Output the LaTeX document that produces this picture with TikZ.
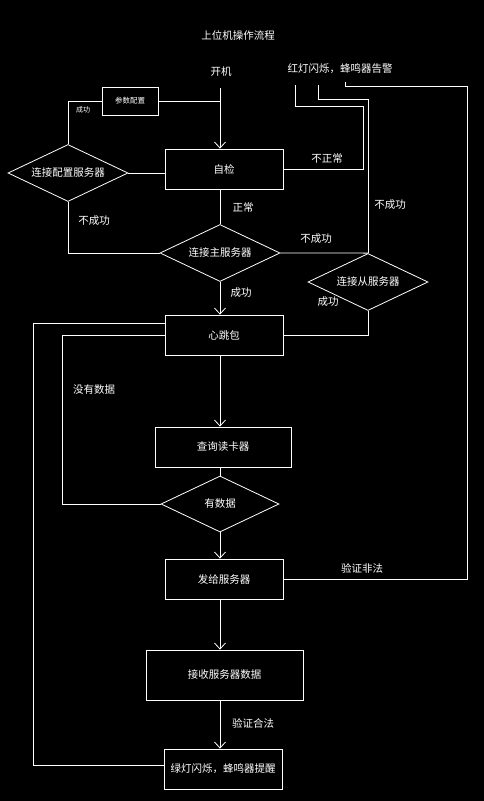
\documentclass[tikz,border=0pt]{standalone}
\usepackage{fontspec}
\setmainfont{Noto Sans CJK SC}
\usetikzlibrary{shapes.geometric,arrows.meta}
\begin{document}
\begin{tikzpicture}[x=1pt,y=-1pt,line width=0.8pt,
  every node/.style={text=white,font=\fontsize{10.5}{12}\selectfont},
  box/.style={draw=white,rectangle,inner sep=0pt},
  dia/.style={draw=white,diamond,shape aspect=2,inner sep=0pt},
  arr/.style={-{Straight Barb[length=6pt,width=11pt]}},
  lbl/.style={inner sep=0pt},
  conn/.style={draw=white}]
\fill[black] (0,0) rectangle (484,801);
\useasboundingbox (0,0) rectangle (484,801);

\node[lbl] (title) at (238,35) {上位机操作流程};
\node[lbl] (kj) at (221,72) {开机};
\node[lbl] (alarm) at (340,69) {红灯闪烁，蜂鸣器告警};
\node[box,minimum width=56pt,minimum height=28pt,font=\fontsize{7.5}{9}\selectfont] (cs) at (130,101) {参数配置};
\node[dia,minimum width=120pt,minimum height=57pt] (pz) at (68,173) {连接配置服务器};
\node[box,minimum width=118pt,minimum height=40pt] (zj) at (224,169) {自检};
\node[dia,minimum width=120pt,minimum height=57pt] (zhu) at (220,253) {连接主服务器};
\node[dia,minimum width=120pt,minimum height=57pt] (cong) at (368,282) {连接从服务器};
\node[box,minimum width=118pt,minimum height=40pt] (xt) at (224,335) {心跳包};
\node[box,minimum width=136pt,minimum height=40pt] (cx) at (223,447) {查询读卡器};
\node[dia,minimum width=118pt,minimum height=56pt] (ysj) at (220,504) {有数据};
\node[box,minimum width=118pt,minimum height=40pt] (fg) at (224,579) {发给服务器};
\node[box,minimum width=157pt,minimum height=50pt] (js) at (224.5,675) {接收服务器数据};
\node[box,minimum width=118pt,minimum height=40pt] (ld) at (223,769) {绿灯闪烁，蜂鸣器提醒};

\coordinate (ax) at (220,0);
\coordinate (kjs) at (220,88);
\coordinate (a1) at (295,85);
\coordinate (a2) at (318,85);
\coordinate (a3) at (345,82);

\draw[conn,arr] (kjs) -- (ax |- zj.north);
\draw[conn] (cs.east) -- (ax |- cs.east);
\draw[conn] (cs.west) -| (pz.north);
\draw[conn] (pz.east) -- (zj.west |- pz.east);
\draw[conn] (zj.east) -| (363,106) -| (a1);
\draw[conn] (cong.north) |- (318,99) -- (a2);
\draw[conn] (fg.east) -| (467,86) -| (a3);
\draw[conn] (zj.south -| ax) -- (zhu.north);
\draw[conn] (pz.south) |- (zhu.west);
\draw[conn] (zhu.east) -- (cong.north);
\draw[conn,arr] (zhu.south) -- (ax |- xt.north);
\draw[conn] (cong.south) |- (xt.east);
\draw[conn] ([yshift=4pt]ld.west) -| (33,323) -- ([yshift=12pt]xt.west);
\draw[conn] (ysj.west) -| (62,335) -- (xt.west);
\draw[conn,arr] (xt.south -| ax) -- (ax |- cx.north);
\draw[conn] (cx.south -| ax) -- (ysj.north);
\draw[conn,arr] (ysj.south) -- (ax |- fg.north);
\draw[conn,arr] (fg.south -| ax) -- (ax |- js.north);
\draw[conn,arr] (js.south -| ax) -- (ax |- ld.north);

\node[lbl,font=\fontsize{7}{8}\selectfont] (l1) at (83,110) {成功};
\node[lbl] (l2) at (327,159) {不正常};
\node[lbl] (l3) at (243,207) {正常};
\node[lbl] (l4) at (94,221) {不成功};
\node[lbl] (l5) at (316,239) {不成功};
\node[lbl] (l6) at (390,205) {不成功};
\node[lbl] (l7) at (241,293) {成功};
\node[lbl] (l8) at (328,302) {成功};
\node[lbl] (l9) at (94,390) {没有数据};
\node[lbl] (l10) at (362,568) {验证非法};
\node[lbl] (l11) at (253,723) {验证合法};
\end{tikzpicture}
\end{document}
